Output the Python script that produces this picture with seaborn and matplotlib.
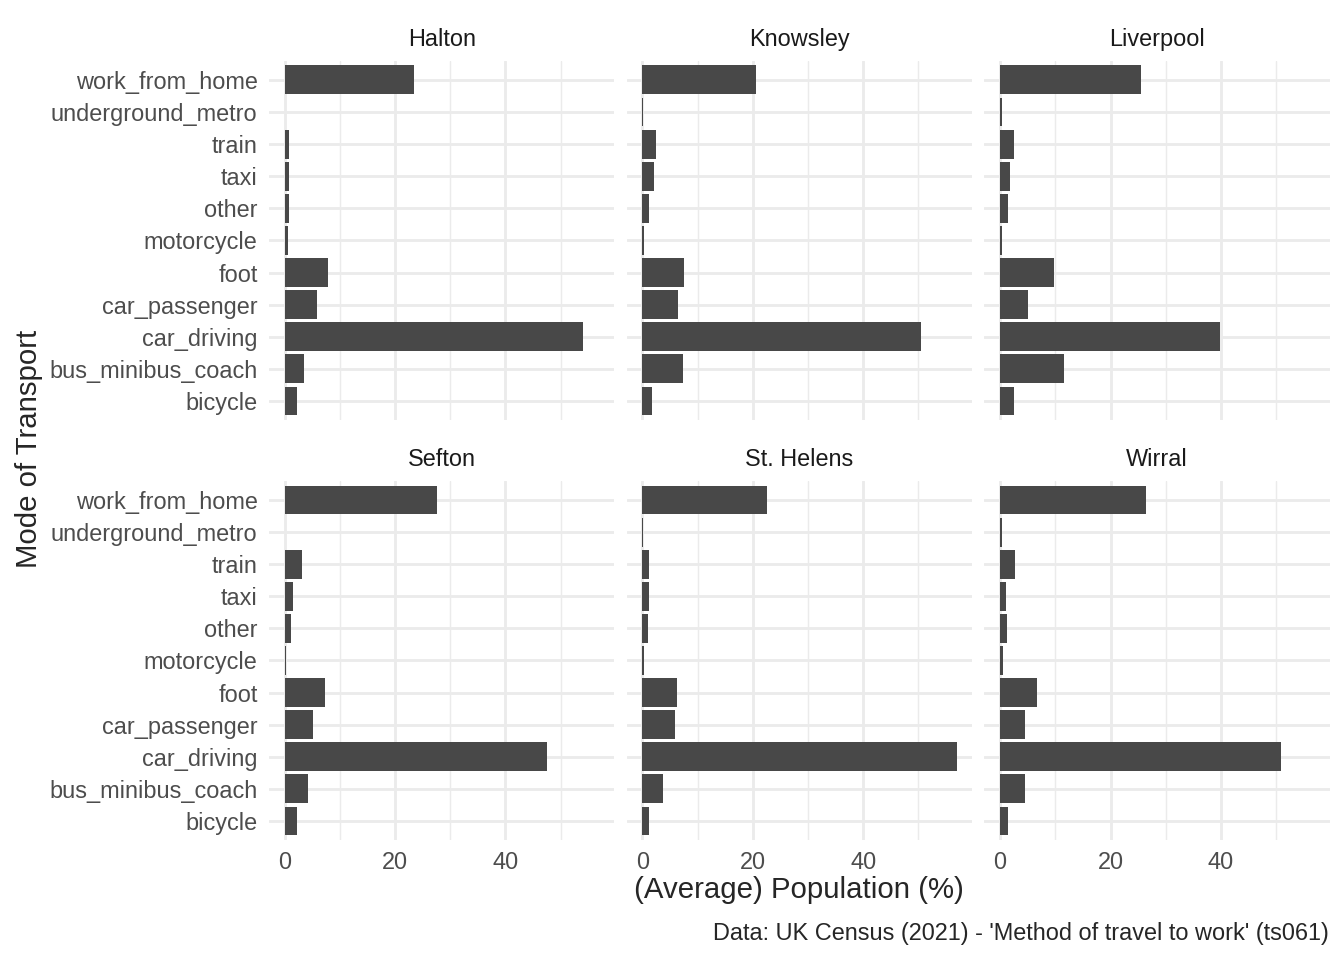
import matplotlib
matplotlib.use('Agg')
from matplotlib import pyplot as plt
from matplotlib.ticker import MultipleLocator
import pandas as pd
import seaborn as sns

# Modes listed top to bottom as they appear in each panel
modes = [
    'work_from_home', 'underground_metro', 'train', 'taxi', 'other', 'motorcycle',
    'foot', 'car_passenger', 'car_driving', 'bus_minibus_coach', 'bicycle',
]
areas = ['Halton', 'Knowsley', 'Liverpool', 'Sefton', 'St. Helens', 'Wirral']

halton = [23.5, 0.1, 0.9, 0.9, 0.9, 0.55, 7.8, 5.8, 54.0, 3.6, 2.2]
knowsley = [20.5, 0.2, 2.5, 2.2, 1.3, 0.35, 7.6, 6.5, 50.4, 7.3, 1.8]
liverpool = [25.5, 0.35, 2.5, 1.8, 1.45, 0.35, 9.8, 5.1, 39.8, 11.5, 2.5]
sefton = [27.6, 0.1, 3.1, 1.45, 1.1, 0.35, 7.3, 5.1, 47.6, 4.2, 2.2]
st_helens = [22.5, 0.15, 1.3, 1.3, 1.1, 0.35, 6.2, 6.0, 56.9, 3.8, 1.3]
wirral = [26.5, 0.35, 2.7, 1.1, 1.3, 0.55, 6.7, 4.5, 50.9, 4.5, 1.45]

values = [halton, knowsley, liverpool, sefton, st_helens, wirral]
df = pd.DataFrame(
    [(area, mode, v) for area, vals in zip(areas, values) for mode, v in zip(modes, vals)],
    columns=['area', 'mode', 'pct'],
)

sns.set_theme(style='white')
plt.rcParams['font.family'] = ['Liberation Sans', 'DejaVu Sans']

BAR = '#484848'
GRID = '#EBEBEB'

g = sns.FacetGrid(df, col='area', col_order=areas, col_wrap=3, sharex=True, sharey=True, despine=False)
g.map_dataframe(sns.barplot, x='pct', y='mode', order=modes, color=BAR, width=0.9,
                saturation=1, linewidth=0)
g.figure.set_size_inches(7, 5)
g.figure.subplots_adjust(left=0.2, right=0.9896, top=0.9368, bottom=0.1247, wspace=0.035, hspace=0.168)
g.set_titles('{col_name}', size=8.8, color='#1A1A1A', pad=5.6)
g.set_axis_labels('', '')

xmax = df.pct.max()
for ax in g.axes.flat:
    ax.set_xlim(-0.05 * xmax, 1.05 * xmax)
    ax.set_ylim(len(modes) - 0.4, -0.6)
    ax.xaxis.set_major_locator(MultipleLocator(20))
    ax.xaxis.set_minor_locator(MultipleLocator(10))
    ax.set_axisbelow(True)
    ax.grid(which='major', axis='both', color=GRID, lw=1.07)
    ax.grid(which='minor', axis='x', color=GRID, lw=0.53)
    for s in ax.spines.values():
        s.set_visible(False)
    ax.tick_params(which='both', length=0, labelsize=8.8, labelcolor='#4D4D4D')
    ax.tick_params(axis='y', pad=4.2)
    ax.tick_params(axis='x', pad=4.0)

fig = g.figure
fig.text(0.0215, 0.532, 'Mode of Transport', rotation=90, ha='center', va='center', fontsize=11)
fig.text(0.5945, 0.0727, '(Average) Population (%)', ha='center', va='center', fontsize=11)
fig.text(0.9885, 0.0281, "Data: UK Census (2021) - 'Method of travel to work' (ts061)",
         ha='right', va='center', fontsize=8.8)

fig.savefig('out.png', dpi=192, facecolor='white')
